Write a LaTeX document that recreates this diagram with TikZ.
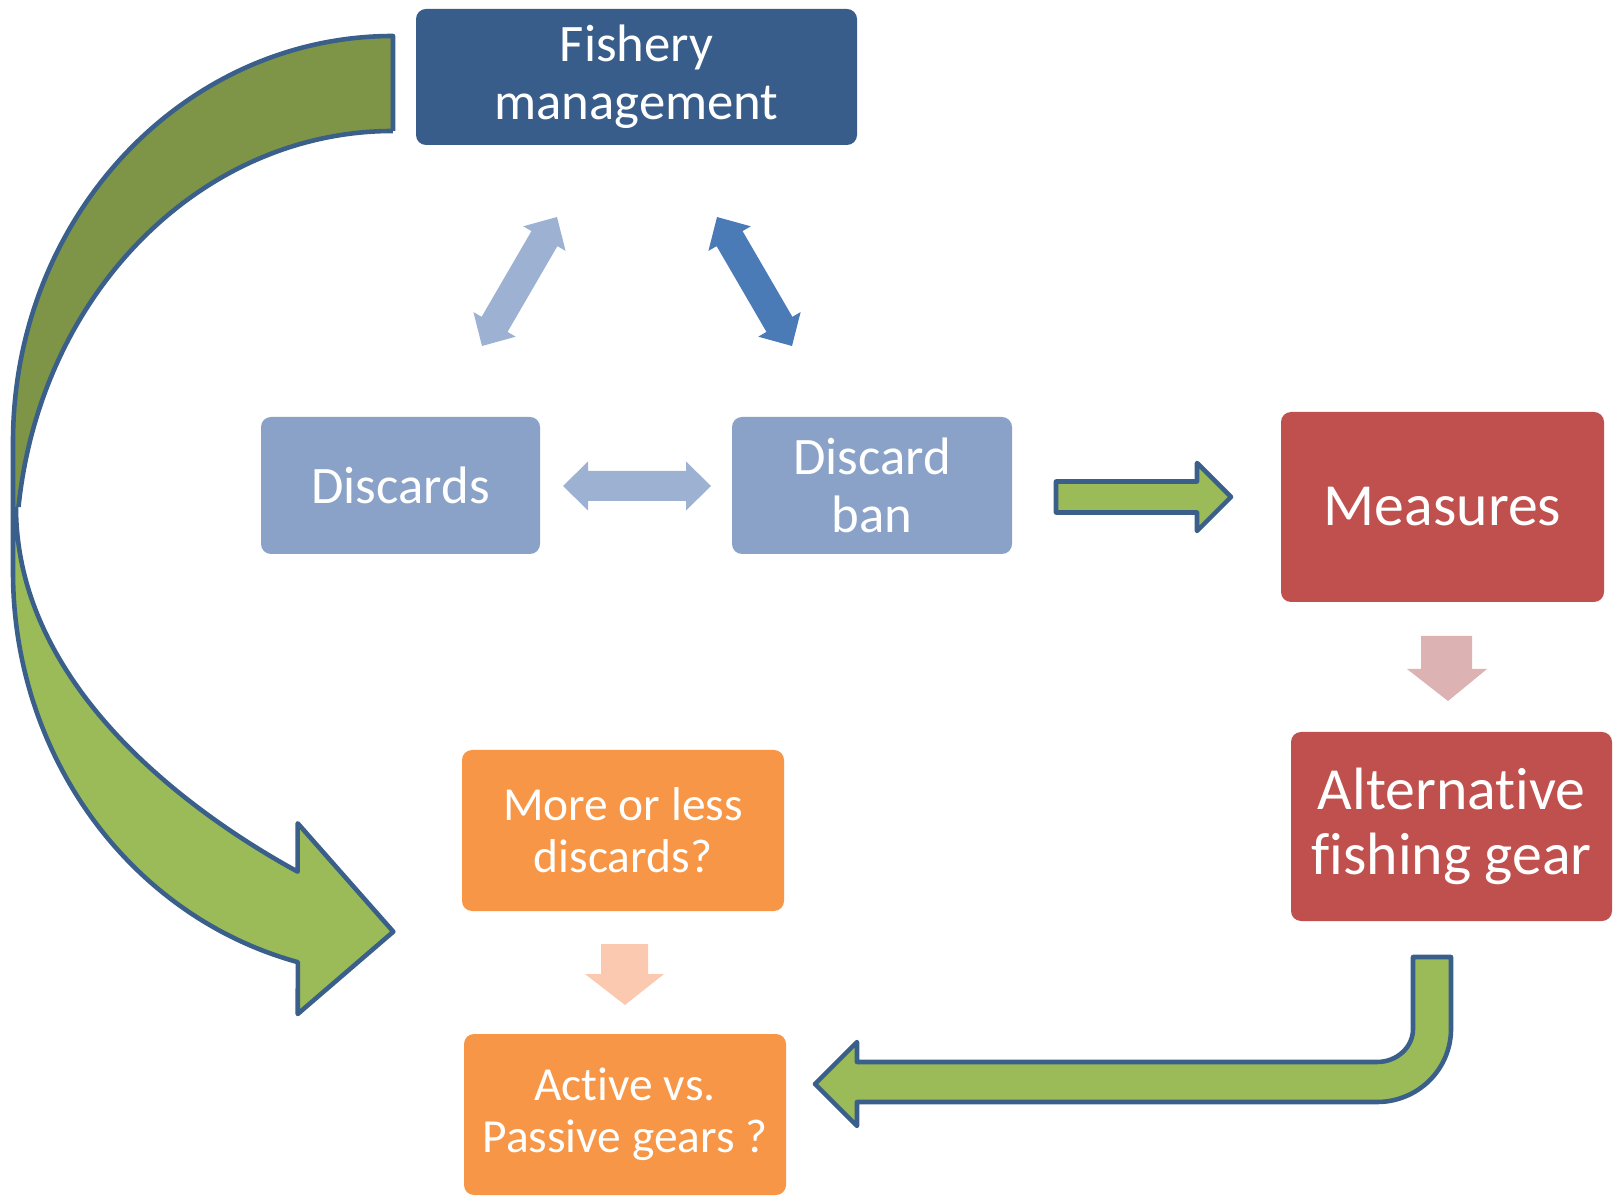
\documentclass[tikz,border=0pt]{standalone}
\usepackage{fontspec}
\setmainfont{Carlito}[Ligatures={CommonOff,ContextualOff}]
\usetikzlibrary{calc}
\definecolor{fishblue}{HTML}{385D8A}
\definecolor{discblue}{HTML}{8AA2C8}
\definecolor{lightarr}{HTML}{9DB1D3}
\definecolor{darkarr}{HTML}{4A7BB6}
\definecolor{redbox}{HTML}{C0504D}
\definecolor{pinkarr}{HTML}{DDB2B2}
\definecolor{orangebox}{HTML}{F79646}
\definecolor{peacharr}{HTML}{FAC9AF}
\definecolor{greenarr}{HTML}{9BBB59}
\definecolor{darkgreen}{HTML}{7E9548}
\definecolor{outl}{HTML}{3A5F8B}
\tikzset{
  box/.style={rounded corners=0.1cm, inner sep=0pt, align=center, text=white},
  bigtxt/.style={font=\fontsize{15}{16.5}\selectfont},
  redtxt/.style={font=\fontsize{17}{18.5}\selectfont},
  orgtxt/.style={font=\fontsize{13.5}{14.8}\selectfont},
  outlined/.style={draw=outl, line width=1.3pt, line join=round},
  pics/dblarr/.style={code={
    \fill (0,0) -- (0.25,0.245) -- (0.25,0.15) -- ({#1-0.25},0.15) -- ({#1-0.25},0.245)
      -- (#1,0) -- ({#1-0.25},-0.245) -- ({#1-0.25},-0.15) -- (0.25,-0.15) -- (0.25,-0.245) -- cycle;}}
}
\begin{document}
\begin{tikzpicture}
\useasboundingbox (0,0) rectangle (16.14,-11.96);
% boxes
\node[box, bigtxt, fill=fishblue, minimum width=4.41cm, minimum height=1.36cm] (fm) at (6.365,-0.77) {Fishery\\management};
\node[box, bigtxt, fill=discblue, minimum width=2.79cm, minimum height=1.37cm] (dc) at (4.005,-4.855) {Discards};
\node[box, bigtxt, fill=discblue, minimum width=2.80cm, minimum height=1.37cm] (db) at (8.72,-4.855) {Discard\\ban};
\node[box, redtxt, fill=redbox, minimum width=3.23cm, minimum height=1.90cm] (ms) at (14.425,-5.07) {Measures};
\node[box, redtxt, fill=redbox, minimum width=3.21cm, minimum height=1.89cm] (alt) at (14.515,-8.265) {Alternat\kern0pt ive\\f\kern0pt ishing gear};
\node[box, orgtxt, fill=orangebox, minimum width=3.22cm, minimum height=1.61cm] (mol) at (6.23,-8.305) {More or less\\discards?};
\node[box, orgtxt, fill=orangebox, minimum width=3.22cm, minimum height=1.61cm] (avp) at (6.25,-11.145) {Act\kern0pt ive vs.\\Passive gears ?};
% double arrows
\coordinate (la) at (4.82,-3.46);
\coordinate (ra) at (7.92,-3.46);
\coordinate (ha) at (5.63,-4.86);
\pic[fill=lightarr, rotate=59.83] at (la) {dblarr=1.492};
\pic[fill=darkarr, rotate=120.17] at (ra) {dblarr=1.492};
\pic[fill=lightarr] at (ha) {dblarr=1.48};
% green straight arrow
\draw[outlined, fill=greenarr] (10.56,-4.815) -- (11.97,-4.815) -- (11.97,-4.63) -- (12.31,-4.97)
  -- (11.97,-5.31) -- (11.97,-5.125) -- (10.56,-5.125) -- cycle;
% pink arrow
\fill[pinkarr] (14.21,-6.36) -- (14.72,-6.36) -- (14.72,-6.69) -- (14.87,-6.69) -- (14.48,-7.01)
  -- (14.07,-6.69) -- (14.21,-6.69) -- cycle;
% peach arrow
\fill[peacharr] (6.01,-9.44) -- (6.48,-9.44) -- (6.48,-9.74) -- (6.64,-9.74) -- (6.25,-10.05)
  -- (5.85,-9.74) -- (6.01,-9.74) -- cycle;
% bent arrow
\draw[outlined, fill=greenarr] (8.15,-10.84) -- (8.57,-10.42) -- (8.57,-10.62) -- (13.77,-10.62)
  arc[start angle=-90, end angle=0, x radius=0.36, y radius=0.33] -- (14.13,-9.57) -- (14.51,-9.57)
  -- (14.51,-10.29) arc[start angle=0, end angle=-90, x radius=0.74, y radius=0.73]
  -- (8.57,-11.02) -- (8.57,-11.26) -- cycle;
% big curved arrow: fills
\fill[darkgreen] (3.93,-0.36) arc[start angle=90, end angle=180, x radius=3.80, y radius=4.06]
  -- (0.13,-5.07) -- (0.185,-5.07) arc[start angle=173.38, end angle=90, x radius=3.77, y radius=4.25] -- cycle;
\fill[greenarr] (0.13,-5.07) -- (0.13,-5.72) arc[start angle=180, end angle=255.5, x radius=3.80, y radius=4.03]
  -- (2.977,-10.14) -- (3.933,-9.317) -- (2.977,-8.233) -- (2.977,-8.717)
  .. controls (1.777,-8.06) and (0.16,-6.80) .. (0.16,-5.07) -- cycle;
% big curved arrow: outlines
\draw[outlined] (3.93,-1.31) -- (3.93,-0.36) arc[start angle=90, end angle=180, x radius=3.80, y radius=4.06]
  -- (0.13,-5.72) arc[start angle=180, end angle=255.5, x radius=3.80, y radius=4.03]
  -- (2.977,-10.14) -- (3.933,-9.317) -- (2.977,-8.233) -- (2.977,-8.717)
  .. controls (1.777,-8.06) and (0.16,-6.80) .. (0.16,-5.07);
\draw[outlined] (0.185,-5.07) arc[start angle=173.38, end angle=90, x radius=3.77, y radius=4.25];
\end{tikzpicture}
\end{document}
